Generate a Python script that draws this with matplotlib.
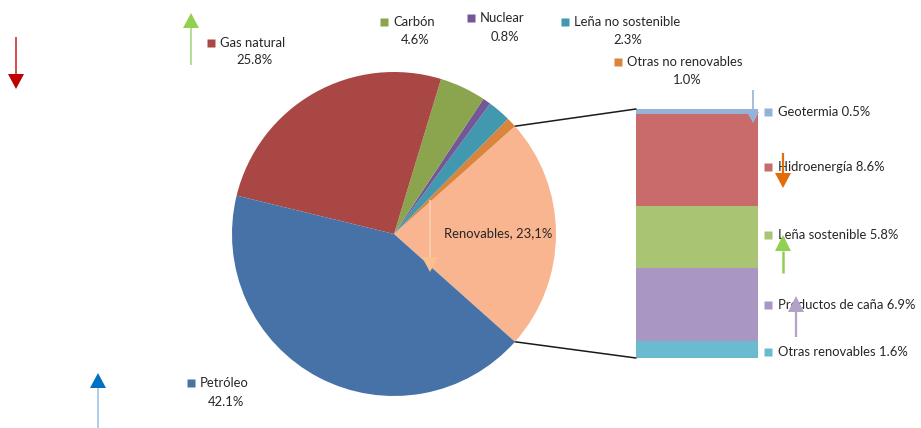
import matplotlib
matplotlib.use("Agg")
import matplotlib.pyplot as plt
from matplotlib.patches import ConnectionPatch
import numpy as np

plt.rcParams['font.family'] = ['Lato', 'DejaVu Sans']

# ---- data ----
pie_labels = ["Renovables", "Otras no renovables", "Leña no sostenible", "Nuclear",
              "Carbón", "Gas natural", "Petróleo"]
pie_values = [23.1, 1.0, 2.3, 0.8, 4.6, 25.8, 42.1]
pie_colors = ["#F9B58F", "#DB843D", "#4198AF", "#735796", "#8BA54E", "#A94744", "#4672A8"]

bar_labels = ["Otras renovables", "Productos de caña", "Leña sostenible", "Hidroenergía", "Geotermia"]
bar_values = [1.6, 6.9, 5.8, 8.6, 0.5]
bar_colors = ["#6BBBD0", "#A996C2", "#A9C574", "#C96B6B", "#95B3D7"]

W, H = 921, 428
txt = "#262626"
fs = 9.4

fig = plt.figure(figsize=(W / 100, H / 100), dpi=100)

# ---- stacked bar of renovables (own axes, drawn below the main one) ----
bx0, bx1, by_top, by_bot = 636, 758, 109, 358
bax = fig.add_axes([bx0 / W, (H - by_bot) / H, (bx1 - bx0) / W, (by_bot - by_top) / H])
bottom = 0
for lab, val, col in zip(bar_labels, bar_values, bar_colors):
    bax.bar(0, val, bottom=bottom, width=1, color=col, linewidth=0)
    bottom += val
bax.set_xlim(-0.5, 0.5)
bax.set_ylim(0, sum(bar_values))
bax.axis('off')

ax = fig.add_axes([0, 0, 1, 1])
ax.set_zorder(2)

def py(y):
    # pixel row -> data y
    return H - y

# ---- pie ----
cx, cy, r = 394, py(234), 162
start = -pie_values[0] / sum(pie_values) * 180
wedges, _ = ax.pie(pie_values, colors=pie_colors, startangle=start, center=(cx, cy),
                   radius=r, counterclock=True, frame=True,
                   wedgeprops=dict(linewidth=0))
ax.set_xlim(0, W)
ax.set_ylim(0, H)
ax.axis('off')

# legend-like labels around the pie
lab_pos = {"Gas natural": (220, 43, 254, 60),
           "Carbón": (393, 22, 415, 40),
           "Nuclear": (480, 18, 505, 37),
           "Leña no sostenible": (574, 22, 628, 40),
           "Otras no renovables": (627, 62, 687, 80),
           "Petróleo": (200, 383, 226, 402)}
for lab, val, col in zip(pie_labels, pie_values, pie_colors):
    if lab not in lab_pos:
        continue
    tx, ty, vx, vy = lab_pos[lab]
    ax.plot(tx - 9, py(ty), marker='s', ms=5.5, color=col, mec='none')
    ax.text(tx, py(ty), lab, fontsize=fs, color=txt, ha='left', va='center')
    ax.text(vx, py(vy), f"{val:.1f}%", fontsize=fs, color=txt, ha='center', va='center')

ax.text(444, py(233), "Renovables, %s%%" % str(pie_values[0]).replace('.', ','),
        fontsize=fs, color=txt, ha='left', va='center')

lab_y = {"Geotermia": 112, "Hidroenergía": 167, "Leña sostenible": 235,
         "Productos de caña": 305, "Otras renovables": 352}
for lab, val, col in zip(bar_labels, bar_values, bar_colors):
    y = lab_y[lab]
    ax.plot(768, py(y), marker='s', ms=5.5, color=col, mec='none')
    ax.text(778, py(y), f"{lab} {val}%", fontsize=fs, color=txt, ha='left', va='center')

# connector lines
w = wedges[0]
for ang, corner in ((w.theta2, (-0.5, sum(bar_values))), (w.theta1, (-0.5, 0))):
    p = (cx + r * np.cos(np.radians(ang)), cy + r * np.sin(np.radians(ang)))
    con = ConnectionPatch(xyA=p, coordsA=ax.transData, xyB=corner, coordsB=bax.transData,
                          color="#1a1a1a", lw=1.1)
    fig.add_artist(con)

# ---- decorative arrows ----
def arrow(x, y_tail, y_tip, head_col, line_col, hw=8, hl=15, lw=1.2):
    d = 1 if y_tip > y_tail else -1
    base = y_tip - d * hl
    ax.plot([x, x], [py(y_tail), py(base)], color=line_col, lw=lw,
            solid_capstyle='butt', zorder=5)
    ax.fill([x - hw, x + hw, x], [py(base), py(base), py(y_tip)], color=head_col,
            lw=0, zorder=5)

arrow(16, 37, 89, "#C00000", "#D03030")
arrow(191, 65, 13, "#92D050", "#A8D880")
arrow(98, 428, 373, "#0070C0", "#9DC3E6")
arrow(430, 200, 272, "#FAC090", "#FAD0B0", hw=8, hl=15)
arrow(753, 90, 123, "#95B3D7", "#95B3D7", hw=6, hl=11)
arrow(783, 153, 188, "#E36C09", "#E36C09", hw=8, hl=15, lw=1.6)
arrow(783, 273, 235, "#92D050", "#92D050", hw=8, hl=16, lw=1.8)
arrow(796, 337, 296, "#B3A2C7", "#B3A2C7", hw=8, hl=16, lw=1.6)

fig.savefig("out.png", dpi=100)
